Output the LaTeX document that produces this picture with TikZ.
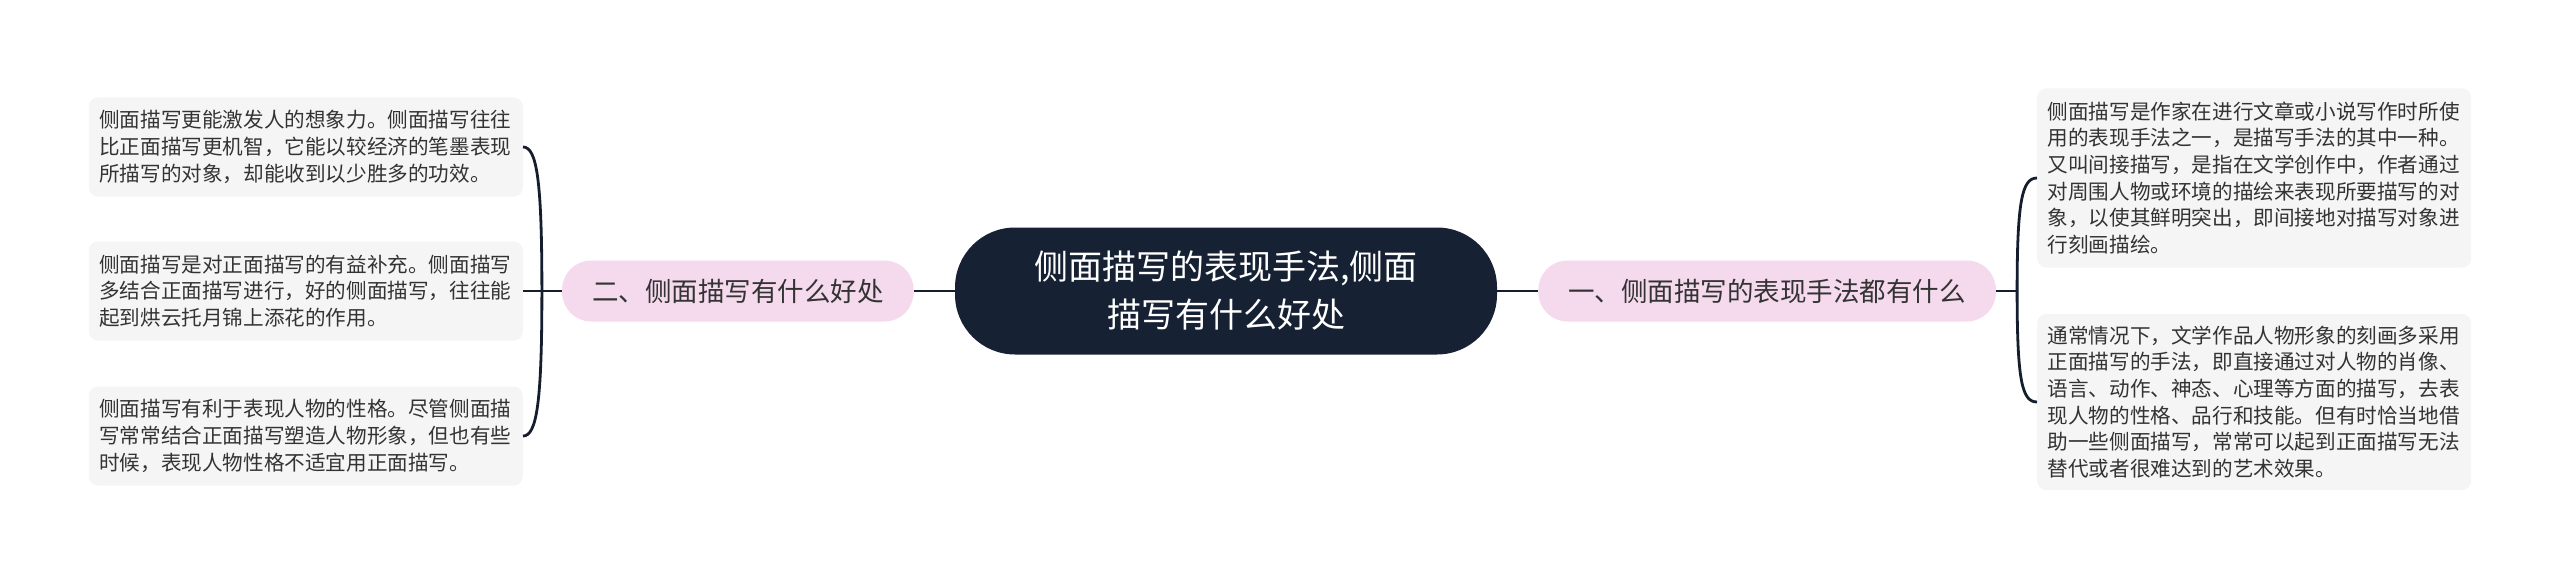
\documentclass[tikz,border=0pt]{standalone}
\usepackage{fontspec}
\setmainfont{Noto Sans CJK SC}
\usetikzlibrary{positioning}
\definecolor{navy}{HTML}{162133}
\definecolor{pinkbg}{HTML}{F5DAEE}
\definecolor{leafbg}{HTML}{F5F5F5}
\definecolor{wirecol}{HTML}{151E2D}
\definecolor{ink}{HTML}{333333}
\tikzset{
  topic/.style={fill=navy,text=white,rounded corners=60pt,minimum width=542pt,
    minimum height=127pt,align=center,font=\fontsize{34}{48}\selectfont},
  branch/.style={fill=pinkbg,text=ink,rounded corners=29pt,minimum height=61pt,
    inner xsep=30pt,font=\fontsize{26.5}{32}\selectfont},
  leaf/.style={fill=leafbg,text=ink,rounded corners=9pt,text width=413pt,
    inner xsep=10.5pt,align=left,font=\fontsize{20.6}{26.7}\selectfont},
  wire/.style={draw=wirecol,line width=2.8pt},
}
\begin{document}
\begin{tikzpicture}[x=1pt,y=-1pt]
        \useasboundingbox (0,0) rectangle (2560,583);
        %% main topic
        \node[topic] (main) at (1226,291) {侧面描写的表现手法,侧面\\描写有什么好处};
        %% branches
        \node[branch,left=41pt of main] (why) {二、侧面描写有什么好处};
        \node[branch,right=41pt of main] (how) {一、侧面描写的表现手法都有什么};
        \draw[wire] (main) -- (why);
        \draw[wire] (main) -- (how);
        %% left leaves
        \node[leaf,minimum height=99pt,anchor=east] (w1) at (523,147) {侧面描写更能激发人的想象力。侧面描写往往\\比正面描写更机智，它能以较经济的笔墨表现\\所描写的对象，却能收到以少胜多的功效。};
        \node[leaf,minimum height=99pt,anchor=east] (w2) at (523,291) {侧面描写是对正面描写的有益补充。侧面描写\\多结合正面描写进行，好的侧面描写，往往能\\起到烘云托月锦上添花的作用。};
        \node[leaf,minimum height=99pt,anchor=east] (w3) at (523,436) {侧面描写有利于表现人物的性格。尽管侧面描\\写常常结合正面描写塑造人物形象，但也有些\\时候，表现人物性格不适宜用正面描写。};
        \coordinate (wfork) at ([xshift=-20pt]why.west);
        \draw[wire] (why.west) -- (w2.east);
        \draw[wire] (wfork) .. controls +(0,-110) and +(14,0) .. (w1.east);
        \draw[wire] (wfork) .. controls +(0,110) and +(14,0) .. (w3.east);
        %% right leaves
        \node[leaf,minimum height=179pt,anchor=west] (h1) at (2037,178) {侧面描写是作家在进行文章或小说写作时所使\\用的表现手法之一，是描写手法的其中一种。\\又叫间接描写，是指在文学创作中，作者通过\\对周围人物或环境的描绘来表现所要描写的对\\象，以使其鲜明突出，即间接地对描写对象进\\行刻画描绘。};
        \node[leaf,minimum height=176pt,anchor=west] (h2) at (2037,402) {通常情况下，文学作品人物形象的刻画多采用\\正面描写的手法，即直接通过对人物的肖像、\\语言、动作、神态、心理等方面的描写，去表\\现人物的性格、品行和技能。但有时恰当地借\\助一些侧面描写，常常可以起到正面描写无法\\替代或者很难达到的艺术效果。};
        \coordinate (hfork) at ([xshift=21pt]how.east);
        \draw[wire] (how.east) -- (hfork);
        \draw[wire] (hfork) .. controls +(0,-90) and +(-15,0) .. (h1.west);
        \draw[wire] (hfork) .. controls +(0,90) and +(-15,0) .. (h2.west);
\end{tikzpicture}
\end{document}
